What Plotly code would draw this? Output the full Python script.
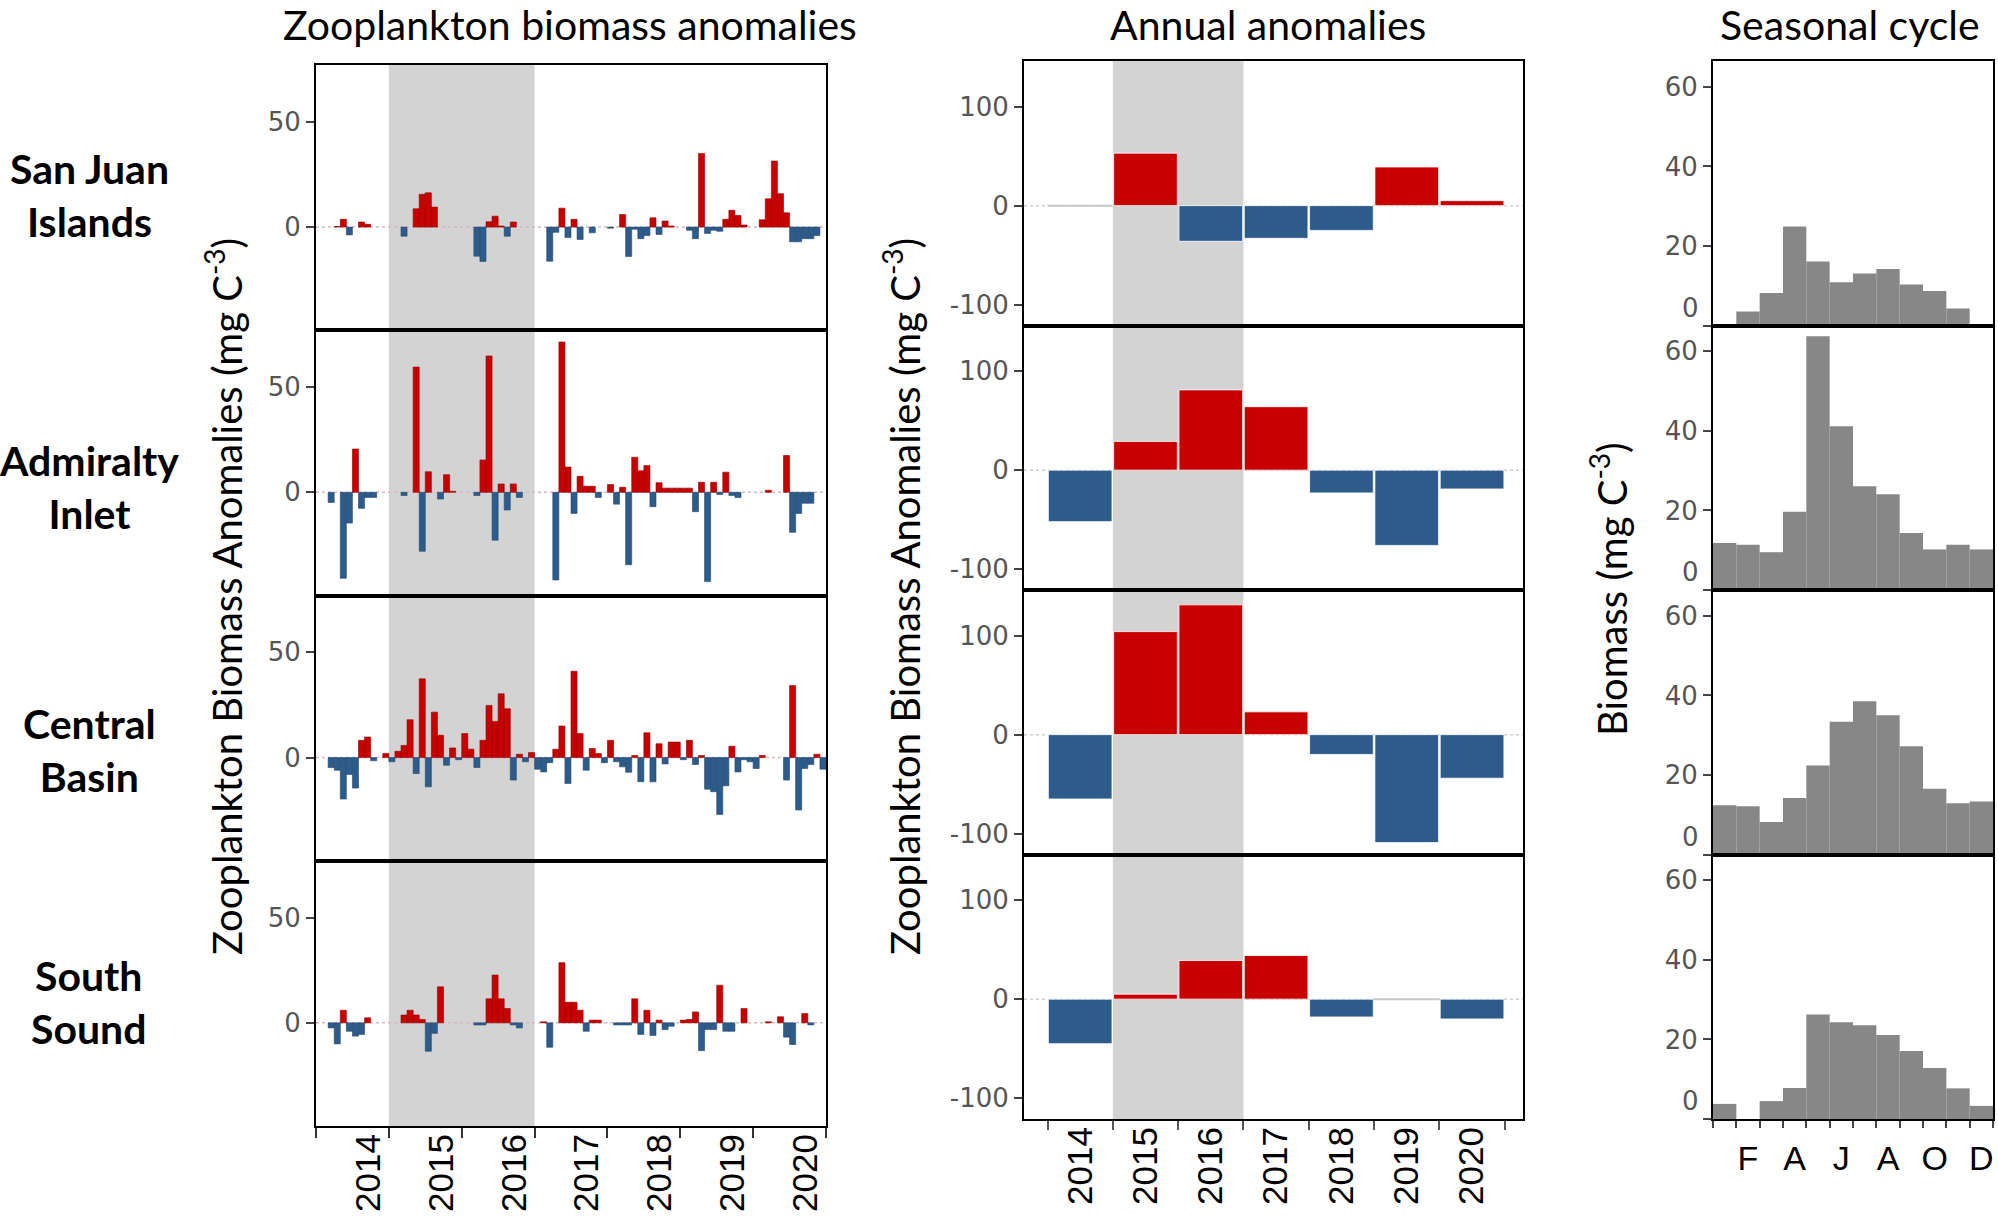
import plotly.graph_objects as go

# ---------------- data ----------------
years = [2014, 2015, 2016, 2017, 2018, 2019, 2020]
regions = ["San Juan<br>Islands", "Admiralty<br>Inlet", "Central<br>Basin", "South<br>Sound"]
month_labels = ["F", "A", "J", "A", "O", "D"]
month_label_pos = [2, 4, 6, 8, 10, 12]
N = None

# monthly anomalies (mg C m-3), Jan 2014 .. Dec 2020
sji_monthly = [
    N, N, N, 0.3, 3.7, -3.7, N, 2.4, 1.3, N, N, N,            # 2014
    N, N, -4.3, N, 8.7, 15.6, 16.3, 9.5, N, N, N, N,          # 2015
    N, N, -13.8, -16.3, 2.5, 5.2, 0.5, -4.3, 2.4, N, N, N,    # 2016
    N, N, -16.2, -2.5, 9.0, -5.0, 3.7, -5.9, N, -2.7, N, N,   # 2017
    -0.5, N, 6.0, -14.0, -1.0, -5.5, -4.0, 4.4, -3.5, 2.9, 0.5, N,  # 2018
    N, -1.5, -5.5, 35.0, -3.0, -1.5, -2.0, 3.7, 8.0, 5.5, 1.0, N,   # 2019
    N, 3.5, 13.5, 31.4, 15.9, 6.8, -7.0, -7.0, -5.5, -5.5, -4.0, N,  # 2020
]
adm_monthly = [
    N, N, -4.8, N, -40.8, -14.6, 20.6, -7.6, -2.4, -2.4, N, N,
    N, N, -1.5, N, 59.5, -28.0, 9.8, N, -3.2, 8.4, 0.5, N,
    N, N, -1.5, 15.4, 64.8, -22.7, 4.0, -8.4, 4.0, -2.4, N, N,
    N, N, N, -41.6, 71.4, 12.0, -10.0, 7.6, 2.9, 2.9, -2.4, N,
    3.7, -5.6, 2.4, -34.4, 16.7, 10.3, 12.7, -6.8, 4.6, 2.0, 2.0, 2.0,
    2.0, 2.0, -9.2, 4.8, -42.4, 4.8, -1.0, 9.6, -1.5, -2.5, N, N,
    N, N, 1.0, N, N, 17.5, -19.0, -10.0, -5.2, -5.2, N, N,
]
cb_monthly = [
    N, N, -4.7, -6.0, -19.7, -8.0, -14.5, 8.2, 9.8, -1.5, N, 2.0,
    -2.0, 3.0, 5.8, 18.0, -7.6, 37.4, -13.9, 21.6, 10.6, -3.6, 4.6, -1.0,
    11.4, 4.0, -4.7, 8.2, 24.8, 17.2, 30.3, 23.2, -10.7, 1.6, -2.0, 2.4,
    -5.5, -6.8, -2.4, 4.0, 15.0, -12.3, 41.0, 11.4, -6.0, 4.3, 1.9, -2.4,
    8.2, -2.0, -4.4, -7.0, 1.0, -11.5, 11.8, -11.5, 6.6, -3.0, 7.4, 7.4,
    -1.0, 8.2, -3.3, 1.0, -15.0, -16.2, -27.0, -13.4, 5.4, -6.8, -1.0, -2.0,
    -5.2, 1.0, N, N, N, -10.7, 34.2, -24.9, -5.2, -3.3, 1.6, -5.5,
]
ss_monthly = [
    N, N, -2.4, -10.0, 6.0, -4.0, -6.3, -5.5, 2.4, N, N, N,
    N, N, 3.7, 6.0, 3.7, 1.6, -13.5, -5.0, 17.1, N, N, N,
    N, N, -1.0, -1.0, 11.4, 22.7, 11.4, 6.8, -1.0, -2.4, N, N,
    N, 0.5, -11.6, N, 28.6, 9.8, 9.8, 6.0, -4.0, 1.3, 1.3, N,
    N, -1.0, -1.0, -1.0, 11.4, -5.5, 6.0, -6.0, 1.3, -3.2, -1.6, N,
    1.3, 1.6, 5.2, -13.2, -3.2, -3.2, 17.9, -4.0, -4.0, N, 6.8, N,
    N, N, 0.5, N, 2.9, -6.8, -10.3, N, 4.4, -1.0, N, N,
]

# annual anomalies
sji_annual = [0, 53, -36, -33, -25, 39, 5]
adm_annual = [-52, 29, 81, 64, -23, -76, -19]
cb_annual = [-65, 104, 131, 23, -20, -109, -44]
ss_annual = [-45, 5, 39, 44, -18, 0, -20]

# seasonal cycle (Jan..Dec)
sji_season = [N, 3.5, 8.2, 24.9, 16.1, 10.9, 13.1, 14.2, 10.3, 8.7, 4.3, N]
adm_season = [11.8, 11.4, 9.5, 19.7, 63.8, 41.2, 26.1, 24.1, 14.3, 10.2, 11.4, 10.2]
cb_season = [12.4, 12.1, 8.2, 14.2, 22.4, 33.4, 38.5, 35.0, 27.2, 16.5, 12.9, 13.3]
ss_season = [3.8, N, 4.5, 7.8, 26.3, 24.3, 23.6, 21.1, 17.1, 12.8, 7.7, 3.3]

monthly = [sji_monthly, adm_monthly, cb_monthly, ss_monthly]
annual = [sji_annual, adm_annual, cb_annual, ss_annual]
season = [sji_season, adm_season, cb_season, ss_season]

# ---------------- styling / layout ----------------
W, H = 1998, 1217
RED, RED_EDGE = "#C80000", "#8E0000"
BLUE, BLUE_EDGE = "#2D5B8A", "#234A72"
GREY_BAR = "#878787"
SHADE = "#D3D3D3"
TITLE_FONT = "Lato"
TICK_FONT = "DejaVu Sans"
XLAB_FONT = "Liberation Sans"
TICKLAB_COLOR = "#555555"

col_x = [(316, 826), (1024, 1523), (1713, 1993)]
row_top0 = [65, 61, 61]
row_h = [265.25, 264.5, 264.5]

fig = go.Figure()
layout = {}
shapes = []
annotations = []


def k_of(r, c):
    return r * 3 + c + 1


month_x = [2014 + (i + 0.5) / 12 for i in range(84)]
months = list(range(1, 13))

for r in range(4):
    for c in range(3):
        k = k_of(r, c)
        xs = "x" if k == 1 else f"x{k}"
        ys = "y" if k == 1 else f"y{k}"
        x0, x1 = col_x[c]
        top = row_top0[c] + row_h[c] * r
        bot = top + row_h[c]
        xdom = [x0 / W, x1 / W]
        ydom = [1 - bot / H, 1 - top / H]
        yminor = None

        if c == 0:
            vals = monthly[r]
            cols = [RED if (v is not None and v > 0) else BLUE for v in vals]
            edges = [RED_EDGE if (v is not None and v > 0) else BLUE_EDGE for v in vals]
            fig.add_trace(go.Bar(x=month_x, y=vals, width=1 / 12, xaxis=xs, yaxis=ys,
                                 marker=dict(color=cols, line=dict(color=edges, width=0.6)),
                                 showlegend=False, hoverinfo="skip"))
            xrange = [2014, 2021]
            yrange = [-49, 77]
            ytv, ytt = [0, 50], ["0", "50"]
            shade = (2015, 2017)
        elif c == 1:
            vals = annual[r]
            cols = [RED if v > 0 else BLUE for v in vals]
            fig.add_trace(go.Bar(x=years, y=vals, width=0.975, xaxis=xs, yaxis=ys,
                                 marker=dict(color=cols, line=dict(color="rgba(255,255,255,0.8)", width=1)),
                                 showlegend=False, hoverinfo="skip"))
            for yv, v in zip(years, vals):
                if v == 0:
                    fig.add_trace(go.Scatter(x=[yv - 0.5, yv + 0.5], y=[0, 0], mode="lines",
                                             line=dict(color="#C8C8C8", width=2),
                                             xaxis=xs, yaxis=ys, showlegend=False, hoverinfo="skip"))
            xrange = [2013.14, 2020.78]
            yrange = [-121, 146]
            ytv, ytt = [-100, 0, 100], ["-100", "0", "100"]
            shade = (2014.5, 2016.5)
        else:
            vals = season[r]
            fig.add_trace(go.Bar(x=months, y=vals, width=1.0, xaxis=xs, yaxis=ys,
                                 marker=dict(color=GREY_BAR, line=dict(width=0)),
                                 showlegend=False, hoverinfo="skip"))
            xrange = [0.5, 12.5]
            yrange = [0, 66.5]
            ytv, ytt = [20, 40, 60], ["20", "40", "60"]
            yminor = dict(tickmode="array", tickvals=[0], ticks="outside", ticklen=8,
                          tickwidth=1.5, tickcolor="#444")
            shade = None
            # the "0" label sits slightly above its tick in the original
            annotations.append(dict(text="0", x=0, y=4.5, xref=f"{xs} domain", yref=ys,
                                    xanchor="right", yanchor="middle", xshift=-12, showarrow=False,
                                    font=dict(family=TICK_FONT, size=26, color=TICKLAB_COLOR)))

        xa = dict(domain=xdom, anchor=ys, range=xrange, showline=True, mirror=True,
                  linecolor="black", linewidth=2, showgrid=False, zeroline=False,
                  fixedrange=True, automargin=False)
        if r == 3:
            if c == 0:
                xa.update(tickmode="array", tickvals=[y + 0.72 for y in years],
                          ticktext=[str(y) for y in years],
                          minor=dict(tickmode="array", tickvals=list(range(2014, 2022)),
                                     ticks="outside", ticklen=10, tickwidth=1.5, tickcolor="#333"))
            elif c == 1:
                xa.update(tickmode="array", tickvals=years, ticktext=[str(y) for y in years],
                          minor=dict(tickmode="array", tickvals=[y - 0.5 for y in years] + [2020.5],
                                     ticks="outside", ticklen=9, tickwidth=1.5, tickcolor="#555"))
            else:
                xa.update(tickmode="array", tickvals=month_label_pos, ticktext=month_labels,
                          minor=dict(tickmode="array", tickvals=[m + 0.5 for m in range(0, 13)],
                                     ticks="outside", ticklen=7, tickwidth=1.5, tickcolor="#444"))
            if c < 2:
                xa.update(ticks="", tickangle=-90, ticklabelstandoff=-8,
                          tickfont=dict(family=XLAB_FONT, size=35, color="black"))
            else:
                xa.update(ticks="outside", ticklen=8, tickcolor="rgba(0,0,0,0)", tickangle=0,
                          tickfont=dict(family=XLAB_FONT, size=34, color="black"))
        else:
            xa.update(showticklabels=False, ticks="")
        ya = dict(domain=ydom, anchor=xs, range=yrange, showline=True, mirror=True,
                  linecolor="black", linewidth=2, showgrid=False, zeroline=False,
                  tickmode="array", tickvals=ytv, ticktext=ytt, ticks="outside",
                  ticklen=8, tickwidth=1.5, tickcolor="#444",
                  tickfont=dict(family=TICK_FONT, size=26, color=TICKLAB_COLOR),
                  fixedrange=True, automargin=False)
        if yminor is not None:
            ya["minor"] = yminor
        layout["xaxis" if k == 1 else f"xaxis{k}"] = xa
        layout["yaxis" if k == 1 else f"yaxis{k}"] = ya

        if shade is not None:
            shapes.append(dict(type="rect", xref=xs, yref=f"{ys} domain",
                               x0=shade[0], x1=shade[1], y0=0, y1=1,
                               fillcolor=SHADE, line=dict(width=0), layer="below"))
            shapes.append(dict(type="line", xref=f"{xs} domain", yref=ys,
                               x0=0, x1=1, y0=0, y1=0,
                               line=dict(color="#D9B8B8" if c == 0 else "#CFCFCF", width=1.5, dash="dot"),
                               layer="below"))

# panel titles
for txt, xc in [("Zooplankton biomass anomalies", 570), ("Annual anomalies", 1268), ("Seasonal cycle", 1850)]:
    annotations.append(dict(text=txt, x=xc / W, y=1 - 24 / H, xref="paper", yref="paper",
                            xanchor="center", yanchor="middle", showarrow=False,
                            font=dict(family=TITLE_FONT, size=41, color="black")))
# row labels
for name, yc in zip(regions, [194.5, 487, 749.5, 1001.5]):
    annotations.append(dict(text=f"<b>{name}</b>", x=89 / W, y=1 - yc / H, xref="paper", yref="paper",
                            xanchor="center", yanchor="middle", showarrow=False, align="center",
                            font=dict(family=TITLE_FONT, size=41, color="black")))
# y axis titles
ytitle = "Zooplankton Biomass Anomalies (mg C<sup>-3</sup>)"
for txt, xc, yc in [(ytitle, 224, 597), (ytitle, 902, 597), ("Biomass (mg C<sup>-3</sup>)", 1609, 589)]:
    annotations.append(dict(text=txt, x=xc / W, y=1 - yc / H, xref="paper", yref="paper",
                            xanchor="center", yanchor="middle", showarrow=False, textangle=-90,
                            font=dict(family=TITLE_FONT, size=40, color="black")))

fig.update_layout(**layout)
fig.update_layout(width=W, height=H, margin=dict(l=0, r=0, t=0, b=0),
                  paper_bgcolor="white", plot_bgcolor="white", barmode="overlay",
                  shapes=shapes, annotations=annotations, showlegend=False)

fig.write_html("out.html", config={"displayModeBar": False},
               post_script="document.body.style.margin='0px';document.body.style.overflow='hidden';")
